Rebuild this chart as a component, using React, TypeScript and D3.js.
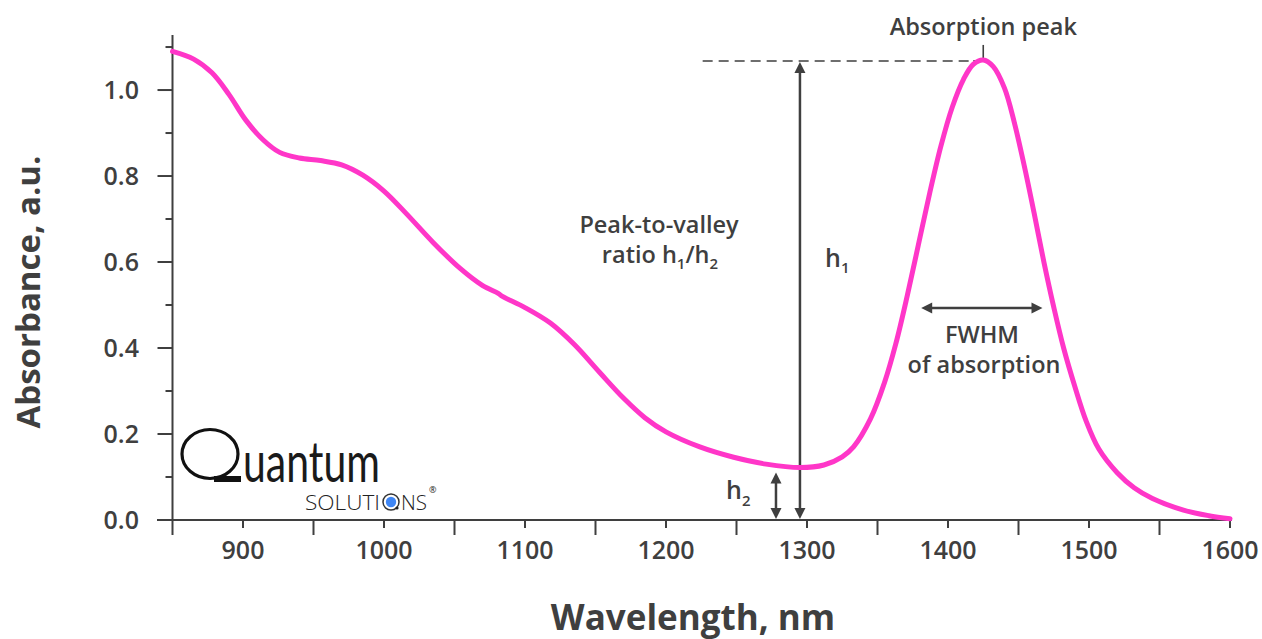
import React from "react";
import * as d3 from "d3";

const wavelength = [850, 865, 878, 890, 902, 914, 926, 940, 955, 970, 985, 1000, 1016, 1035, 1054, 1070, 1081, 1084, 1100, 1118, 1135, 1153, 1170, 1185, 1200, 1224, 1248, 1271, 1295, 1312, 1325, 1333, 1345, 1355, 1363, 1371, 1379, 1387, 1395, 1403, 1411, 1418, 1425, 1432, 1440, 1447, 1454, 1461, 1468, 1475, 1482, 1490, 1498, 1507, 1520, 1532, 1545, 1567, 1585, 1600];
const absorbance = [1.09, 1.072, 1.04, 0.99, 0.93, 0.885, 0.855, 0.842, 0.836, 0.826, 0.802, 0.765, 0.712, 0.645, 0.585, 0.545, 0.527, 0.52, 0.494, 0.458, 0.408, 0.343, 0.283, 0.238, 0.205, 0.17, 0.146, 0.13, 0.122, 0.128, 0.147, 0.17, 0.235, 0.32, 0.41, 0.52, 0.64, 0.76, 0.87, 0.96, 1.025, 1.06, 1.07, 1.055, 1.005, 0.925, 0.825, 0.715, 0.6, 0.495, 0.4, 0.31, 0.23, 0.165, 0.11, 0.075, 0.05, 0.023, 0.01, 0.003];

const xTicks = [850, 900, 950, 1000, 1050, 1100, 1150, 1200, 1250, 1300, 1350, 1400, 1450, 1500, 1550, 1600];
const xLabels = [900, 1000, 1100, 1200, 1300, 1400, 1500, 1600];
const yTicks = [0, 0.1, 0.2, 0.3, 0.4, 0.5, 0.6, 0.7, 0.8, 0.9, 1.0, 1.1];
const yLabels = [0, 0.2, 0.4, 0.6, 0.8, 1.0];

// annotation anchors (data units)
const peakNm = 1425;
const peakAbs = 1.07;
const valleyNm = 1295;
const h2Nm = 1278;
const h2Abs = 0.122;
const dashStartNm = 1226;
const fwhmLeft = 1381;
const fwhmRight = 1467;

const INK = "#3f3f3f";
const FONT = "'Open Sans', 'Noto Sans', sans-serif";

function Arrow({ x1, y1, x2, y2 }: { x1: number; y1: number; x2: number; y2: number }) {
  const ang = Math.atan2(y2 - y1, x2 - x1);
  const L = 11, W = 5.5;
  const head = (x: number, y: number, a: number) => {
    const bx = x - L * Math.cos(a), by = y - L * Math.sin(a);
    const px = -Math.sin(a) * W, py = Math.cos(a) * W;
    return `${x},${y} ${bx + px},${by + py} ${bx - px},${by - py}`;
  };
  return (
    <g>
      <line x1={x1 + 6 * Math.cos(ang)} y1={y1 + 6 * Math.sin(ang)} x2={x2 - 6 * Math.cos(ang)} y2={y2 - 6 * Math.sin(ang)} stroke={INK} strokeWidth={2.5} />
      <polygon points={head(x2, y2, ang)} fill={INK} />
      <polygon points={head(x1, y1, ang + Math.PI)} fill={INK} />
    </g>
  );
}

export default function App() {
  const x = d3.scaleLinear().domain([850, 1600]).range([172.5, 1230]);
  const y = d3.scaleLinear().domain([0, 1.128]).range([520, 35]);
  const pts = wavelength.map((w, i) => [w, absorbance[i]] as [number, number]);
  const line = d3
    .line<[number, number]>()
    .x((d) => x(d[0]))
    .y((d) => y(d[1]))
    .curve(d3.curveCatmullRom.alpha(0.5));

  const x0 = x(850);
  const yb = y(0);
  const ann = { fontSize: 23.5, fontWeight: 600, fill: INK } as const;

  return (
    <svg width={1262} height={639} style={{ position: "absolute", left: 0, top: 0, display: "block", background: "#fff" }} fontFamily={FONT}>
      {/* axes */}
      <line x1={157} y1={yb} x2={x(1600) + 2} y2={yb} stroke={INK} strokeWidth={2} />
      <line x1={x0} y1={y(1.128)} x2={x0} y2={yb} stroke={INK} strokeWidth={2} />
      {xTicks.map((t) => {
        const labeled = xLabels.includes(t);
        return <line key={"xt" + t} x1={x(t)} x2={x(t)} y1={yb} y2={yb + (labeled ? 8 : 15)} stroke={INK} strokeWidth={2} />;
      })}
      {yTicks.map((t) => {
        const labeled = yLabels.some((l) => Math.abs(l - t) < 1e-9);
        return <line key={"yt" + t} x1={x0 - (labeled ? 15 : 7)} x2={x0} y1={y(t)} y2={y(t)} stroke={INK} strokeWidth={2} />;
      })}
      {xLabels.map((t) => (
        <text key={"xl" + t} x={x(t)} y={559} textAnchor="middle" fontSize={25} fontWeight={600} fill={INK}>
          {t}
        </text>
      ))}
      {yLabels.map((t) => (
        <text key={"yl" + t} x={139} y={y(t)} dy="0.36em" textAnchor="end" fontSize={25} fontWeight={600} fill={INK}>
          {t.toFixed(1)}
        </text>
      ))}
      <text x={693} y={630} textAnchor="middle" fontSize={35} fontWeight={700} fill={INK}>
        Wavelength, nm
      </text>
      <text transform="translate(40,292) rotate(-90)" textAnchor="middle" fontSize={33} fontWeight={700} fill={INK}>
        Absorbance, a.u.
      </text>

      {/* annotations */}
      <line x1={x(dashStartNm)} y1={y(peakAbs) + 1} x2={x(peakNm) - 8} y2={y(peakAbs) + 1} stroke={INK} strokeWidth={1.6} strokeDasharray="10,6" />
      <line x1={x(peakNm) - 10} y1={y(peakAbs) + 1} x2={x(peakNm)} y2={y(peakAbs) + 1} stroke={INK} strokeWidth={1.6} />
      <line x1={x(peakNm)} y1={y(peakAbs) - 15} x2={x(peakNm)} y2={y(peakAbs) + 1.5} stroke={INK} strokeWidth={1.6} />
      <text x={x(peakNm)} y={35} textAnchor="middle" {...ann}>
        Absorption peak
      </text>

      <Arrow x1={x(valleyNm)} y1={y(peakAbs) + 2} x2={x(valleyNm)} y2={yb - 1} />
      <Arrow x1={x(h2Nm)} y1={y(h2Abs) + 5} x2={x(h2Nm)} y2={yb - 1} />
      <Arrow x1={x(fwhmLeft)} y1={308} x2={x(fwhmRight)} y2={308} />

      <text x={825} y={267} {...ann} fontSize={25}>
        h<tspan fontSize={15} dy={6}>1</tspan>
      </text>
      <text x={726} y={499} {...ann} fontSize={25}>
        h<tspan fontSize={15} dy={7}>2</tspan>
      </text>
      <text x={659} y={233} textAnchor="middle" {...ann}>
        Peak-to-valley
      </text>
      <text x={660} y={263} textAnchor="middle" {...ann}>
        ratio h<tspan fontSize={15} dy={6}>1</tspan>
        <tspan dy={-6}>/h</tspan>
        <tspan fontSize={15} dy={6}>2</tspan>
      </text>
      <text x={982} y={343} textAnchor="middle" {...ann}>
        FWHM
      </text>
      <text x={984} y={373} textAnchor="middle" {...ann}>
        of absorption
      </text>

      {/* logo */}
      <g>
        <ellipse cx={210} cy={454} rx={28} ry={24.5} fill="none" stroke="#111" strokeWidth={3.2} />
        <rect x={214} y={476} width={27} height={6} fill="#111" />
        <text x={243} y={482} fontSize={56} fontFamily="Lato, 'Open Sans', sans-serif" fill="#1a1a1a" textLength={137} lengthAdjust="spacingAndGlyphs">
          uantum
        </text>
        <text x={305} y={510} fontSize={20} fontFamily="'Open Sans', sans-serif" fontWeight={300} fill="#222" textLength={75} lengthAdjust="spacingAndGlyphs">
          SOLUTI
        </text>
        <circle cx={391} cy={502} r={8} fill="none" stroke="#333" strokeWidth={1.5} />
        <circle cx={391} cy={502} r={5.2} fill="#3f86f4" />
        <circle cx={397} cy={508} r={1.6} fill="#222" />
        <text x={401} y={510} fontSize={20} fontFamily="'Open Sans', sans-serif" fontWeight={300} fill="#222" textLength={26} lengthAdjust="spacingAndGlyphs">
          NS
        </text>
        <text x={429} y={493} fontSize={9} fontFamily="'Open Sans', sans-serif" fill="#222">
          ®
        </text>
      </g>

      {/* spectrum */}
      <path d={line(pts) || ""} fill="none" stroke="#ff36c8" strokeWidth={5} strokeLinecap="round" strokeLinejoin="round" />
    </svg>
  );
}
